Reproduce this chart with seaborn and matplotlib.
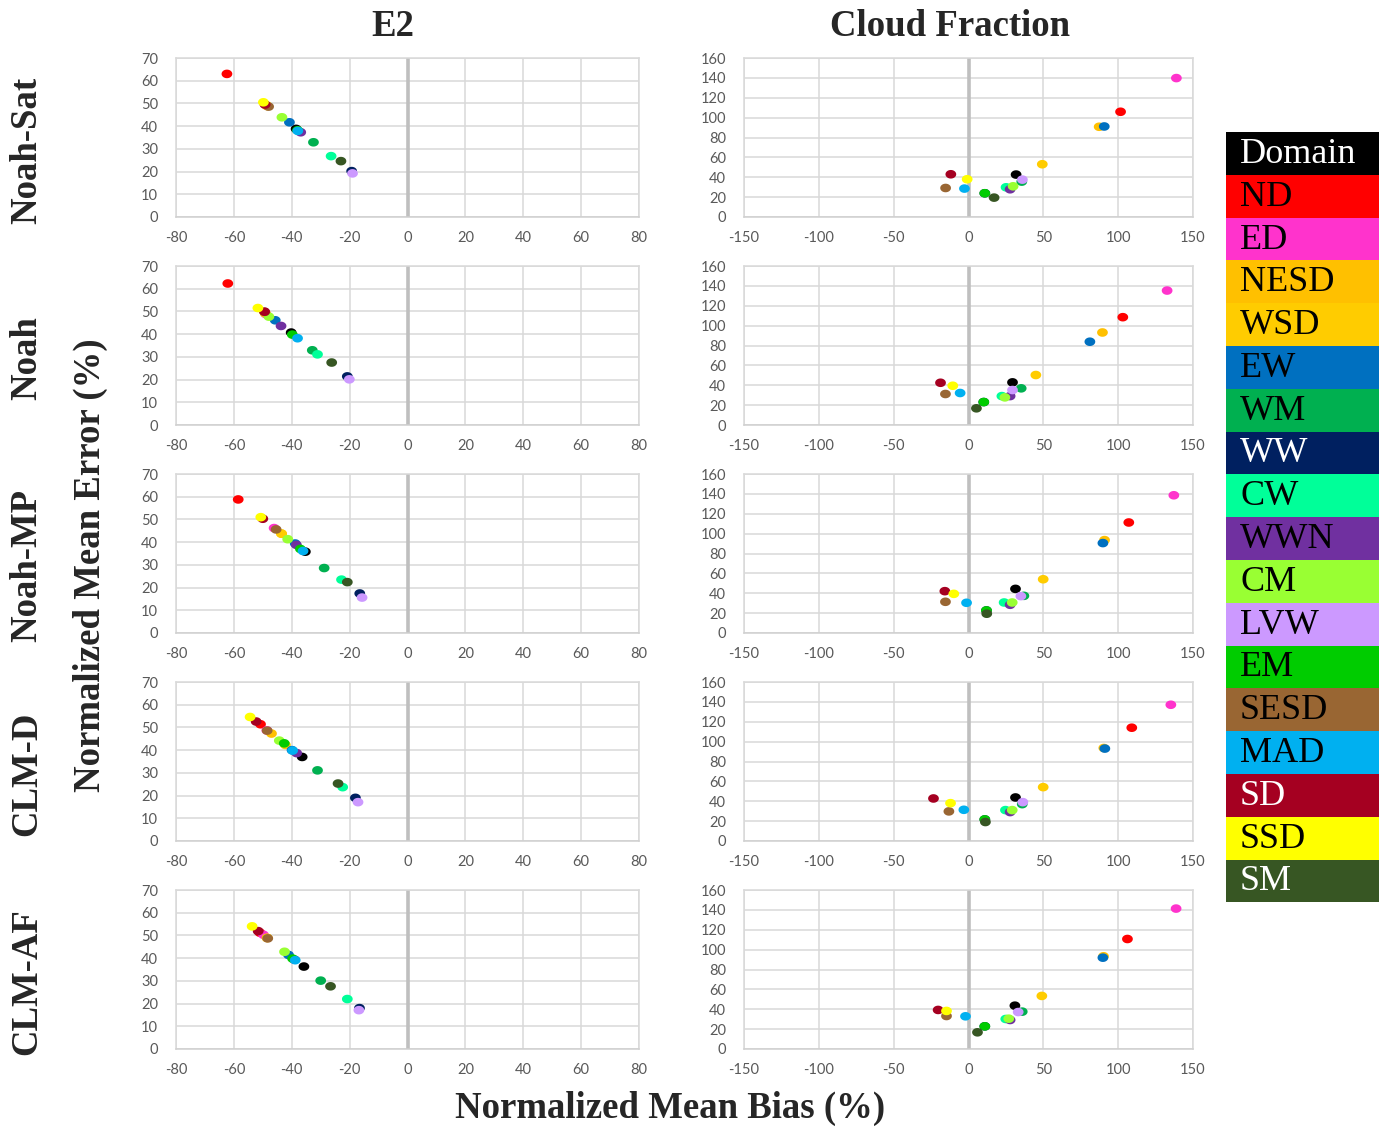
import numpy as np
import pandas as pd
import matplotlib
matplotlib.use("Agg")
import matplotlib.pyplot as plt
import seaborn as sns
from matplotlib.patches import Rectangle
from matplotlib.path import Path

# ---------------- data ----------------
regions = ["Domain", "ND", "ED", "NESD", "WSD", "EW", "WM", "WW", "CW", "WWN",
           "CM", "LVW", "EM", "SESD", "MAD", "SD", "SSD", "SM"]
region_colors = ["#000000", "#FF0000", "#FF33CC", "#FFC000", "#FFCC00", "#0070C0",
                 "#00B050", "#002060", "#00FF99", "#7030A0", "#99FF33", "#CC99FF",
                 "#00CC00", "#996633", "#00B0F0", "#A50021", "#FFFF00", "#375623"]
legend_text_colors = ["white", "black", "black", "black", "black", "black",
                      "black", "white", "black", "black", "black", "black",
                      "black", "black", "black", "white", "black", "white"]
models = ["Noah-Sat", "Noah", "Noah-MP", "CLM-D", "CLM-AF"]
variables = ["E2", "Cloud Fraction"]

# E2 (left column): normalized mean bias / error, in region order
e2_noahsat_nmb = [-38.5, -62.4, -49.3, -48.5, -48.5, -40.8, -32.5, -19.3, -26.4, -36.9, -43.4, -19.0, -38.0, -48.0, -37.9, -49.2, -49.8, -23.0]
e2_noahsat_nme = [38.8, 63.0, 49.6, 48.9, 48.9, 41.7, 32.9, 20.2, 26.8, 37.3, 43.9, 19.2, 38.2, 48.6, 37.9, 49.5, 50.5, 24.6]
e2_noah_nmb = [-40.2, -62.1, -48.9, -49.2, -49.2, -45.7, -32.9, -20.8, -31.1, -43.7, -47.9, -20.1, -39.8, -49.4, -38.0, -49.4, -51.7, -26.2]
e2_noah_nme = [40.7, 62.3, 48.8, 49.3, 49.3, 46.1, 32.9, 21.4, 31.1, 43.6, 47.7, 20.1, 39.8, 49.8, 38.2, 49.9, 51.5, 27.5]
e2_noahmp_nmb = [-35.3, -58.5, -46.1, -43.5, -43.6, -38.8, -28.8, -16.5, -22.8, -38.4, -41.4, -15.7, -37.0, -45.4, -36.1, -50.0, -50.7, -20.8]
e2_noahmp_nme = [35.8, 58.8, 46.2, 43.7, 43.8, 39.4, 28.6, 17.4, 23.5, 38.8, 41.3, 15.6, 37.0, 45.6, 36.1, 50.3, 51.0, 22.4]
e2_clmd_nmb = [-36.4, -50.8, -48.6, -47.0, -42.2, -39.9, -31.1, -18.0, -22.4, -38.3, -44.3, -17.1, -42.6, -48.5, -39.7, -52.3, -54.4, -24.0]
e2_clmd_nme = [37.0, 51.4, 48.7, 47.3, 42.3, 40.0, 31.1, 19.0, 23.7, 38.7, 44.2, 17.1, 43.0, 48.6, 39.8, 52.6, 54.6, 25.3]
e2_clmaf_nmb = [-35.8, -51.0, -49.8, -48.5, -48.5, -41.1, -30.0, -16.6, -20.8, -39.0, -42.5, -16.8, -39.7, -48.3, -38.8, -51.6, -53.7, -26.6]
e2_clmaf_nme = [36.3, 51.2, 50.3, 48.9, 48.9, 41.4, 30.1, 18.0, 22.0, 39.3, 42.8, 17.1, 39.8, 48.7, 39.1, 51.9, 54.0, 27.6]

# Cloud fraction (right column)
cf_noahsat_nmb = [31.8, 101.6, 138.9, 87.3, 49.3, 90.7, 35.6, 10.9, 25.1, 27.8, 29.8, 36.0, 10.9, -15.3, -2.7, -11.8, -0.9, 17.1]
cf_noahsat_nme = [42.7, 105.9, 139.8, 90.8, 53.1, 91.1, 35.6, 23.9, 29.9, 27.9, 30.9, 37.6, 23.9, 29.2, 28.6, 43.0, 38.0, 19.5]
cf_noah_nmb = [29.4, 103.1, 132.7, 89.5, 45.0, 81.1, 35.2, 10.2, 22.3, 27.8, 24.3, 29.4, 10.2, -15.4, -5.6, -18.7, -10.5, 5.3]
cf_noah_nme = [42.9, 108.5, 135.3, 93.1, 50.3, 83.8, 36.9, 23.1, 29.1, 29.1, 27.8, 35.2, 23.1, 31.2, 32.2, 42.5, 39.5, 16.8]
cf_noahmp_nmb = [31.4, 107.1, 137.2, 90.9, 49.9, 89.8, 37.0, 12.0, 23.8, 27.8, 29.2, 35.0, 12.0, -15.4, -1.3, -15.8, -9.8, 12.2]
cf_noahmp_nme = [44.4, 111.2, 138.6, 93.5, 54.1, 90.5, 37.4, 22.7, 30.7, 28.4, 30.7, 37.1, 22.7, 31.4, 30.4, 42.1, 39.4, 19.4]
cf_clmd_nmb = [31.4, 109.1, 135.2, 90.4, 49.9, 91.1, 35.9, 10.9, 24.7, 27.8, 29.2, 36.3, 10.9, -13.1, -3.1, -23.4, -12.0, 11.3]
cf_clmd_nme = [43.8, 114.0, 137.1, 93.6, 54.2, 93.0, 37.1, 21.7, 31.1, 29.1, 31.1, 39.1, 21.7, 29.8, 31.4, 42.8, 38.1, 19.1]
cf_clmaf_nmb = [31.0, 106.2, 138.7, 90.2, 49.0, 89.8, 35.9, 10.9, 24.9, 27.8, 26.9, 33.2, 10.9, -14.7, -2.0, -20.3, -14.7, 6.0]
cf_clmaf_nme = [43.6, 110.7, 141.3, 93.3, 53.4, 91.9, 37.6, 22.8, 30.2, 29.2, 30.5, 37.2, 22.8, 33.2, 32.9, 39.3, 38.3, 16.8]

e2_xticks = [-80, -60, -40, -20, 0, 20, 40, 60, 80]
e2_yticks = [0, 10, 20, 30, 40, 50, 60, 70]
cf_xticks = [-150, -100, -50, 0, 50, 100, 150]
cf_yticks = [0, 20, 40, 60, 80, 100, 120, 140, 160]

panel_data = {
    ("Noah-Sat", "E2"): (e2_noahsat_nmb, e2_noahsat_nme),
    ("Noah", "E2"): (e2_noah_nmb, e2_noah_nme),
    ("Noah-MP", "E2"): (e2_noahmp_nmb, e2_noahmp_nme),
    ("CLM-D", "E2"): (e2_clmd_nmb, e2_clmd_nme),
    ("CLM-AF", "E2"): (e2_clmaf_nmb, e2_clmaf_nme),
    ("Noah-Sat", "Cloud Fraction"): (cf_noahsat_nmb, cf_noahsat_nme),
    ("Noah", "Cloud Fraction"): (cf_noah_nmb, cf_noah_nme),
    ("Noah-MP", "Cloud Fraction"): (cf_noahmp_nmb, cf_noahmp_nme),
    ("CLM-D", "Cloud Fraction"): (cf_clmd_nmb, cf_clmd_nme),
    ("CLM-AF", "Cloud Fraction"): (cf_clmaf_nmb, cf_clmaf_nme),
}

rows = []
for (m, v), (xs, ys) in panel_data.items():
    for r, x, y in zip(regions, xs, ys):
        rows.append({"model": m, "variable": v, "region": r, "nmb": x, "nme": y})
df = pd.DataFrame(rows)

palette = dict(zip(regions, region_colors))

# slightly wide elliptical marker (Excel-like)
_t = np.linspace(0, 2 * np.pi, 40)
ellipse_marker = Path(np.column_stack([np.cos(_t), 0.8 * np.sin(_t)]))

# ---------------- figure ----------------
sns.set_theme(style="white")
plt.rcParams["axes.unicode_minus"] = False
W, H = 1379, 1127
fig = plt.figure(figsize=(W / 100, H / 100), dpi=100)

serif = ["Liberation Serif", "DejaVu Serif"]
tick_font = ["Lato", "DejaVu Sans"]

col_px = {"E2": (176, 639), "Cloud Fraction": (744, 1193)}
row_top0, row_pitch, row_h = 58, 208, 159

for ri, m in enumerate(models):
    top = row_top0 + ri * row_pitch
    for v in variables:
        x0, x1 = col_px[v]
        ax = fig.add_axes([x0 / W, 1 - (top + row_h) / H, (x1 - x0) / W, row_h / H])
        sub = df[(df.model == m) & (df.variable == v)]
        sns.scatterplot(data=sub, x="nmb", y="nme", hue="region", hue_order=regions,
                        palette=palette, s=60, marker=ellipse_marker, linewidth=0,
                        legend=False, ax=ax, zorder=3)
        if v == "E2":
            ax.set_xlim(-80, 80); ax.set_ylim(0, 70)
            ax.set_xticks(e2_xticks); ax.set_yticks(e2_yticks)
        else:
            ax.set_xlim(-150, 150); ax.set_ylim(0, 160)
            ax.set_xticks(cf_xticks); ax.set_yticks(cf_yticks)
        ax.set_xlabel(""); ax.set_ylabel("")
        ax.grid(True, color="#d9d9d9", lw=1.1)
        ax.set_axisbelow(True)
        ax.axvline(0, color="#bfbfbf", lw=2.6, zorder=2)
        for sp in ax.spines.values():
            sp.set_color("#d9d9d9"); sp.set_linewidth(1.1)
        ax.spines["bottom"].set_color("#cfcfcf")
        ax.tick_params(axis="both", length=0, labelsize=10.5, labelcolor="#595959")
        ax.tick_params(axis="x", pad=10)
        ax.tick_params(axis="y", pad=13)
        for lab in ax.get_xticklabels() + ax.get_yticklabels():
            lab.set_family(tick_font)

    # row label
    fig.text(27 / W, 1 - (top + 92) / H, m, rotation=90, ha="center", va="center",
             fontsize=26.5, fontweight="bold", family=serif)

# column titles
fig.text(393 / W, 1 - 26 / H, "E2", ha="center", va="center",
         fontsize=26.5, fontweight="bold", family=serif)
fig.text(950 / W, 1 - 26 / H, "Cloud Fraction", ha="center", va="center",
         fontsize=26.5, fontweight="bold", family=serif)

# shared axis labels
fig.text(90 / W, 1 - 565 / H, "Normalized Mean Error (%)", rotation=90,
         ha="center", va="center", fontsize=26.5, fontweight="bold", family=serif)
fig.text(670 / W, 1 - 1108 / H, "Normalized Mean Bias (%)", ha="center",
         va="center", fontsize=26.5, fontweight="bold", family=serif)

# legend as coloured boxes
lx0, lx1, ly0, lh = 1226, 1379, 132, 42.8
for i, (r, c, tc) in enumerate(zip(regions, region_colors, legend_text_colors)):
    y_top = ly0 + i * lh
    fig.patches.append(Rectangle((lx0 / W, 1 - (y_top + lh) / H), (lx1 - lx0) / W, lh / H,
                                 transform=fig.transFigure, facecolor=c,
                                 edgecolor="none", zorder=1))
    fig.text(1240 / W, 1 - (y_top + lh / 2 + 1) / H, r, ha="left", va="center",
             fontsize=26, color=tc, family=serif)

fig.savefig("out.png", dpi=100)
